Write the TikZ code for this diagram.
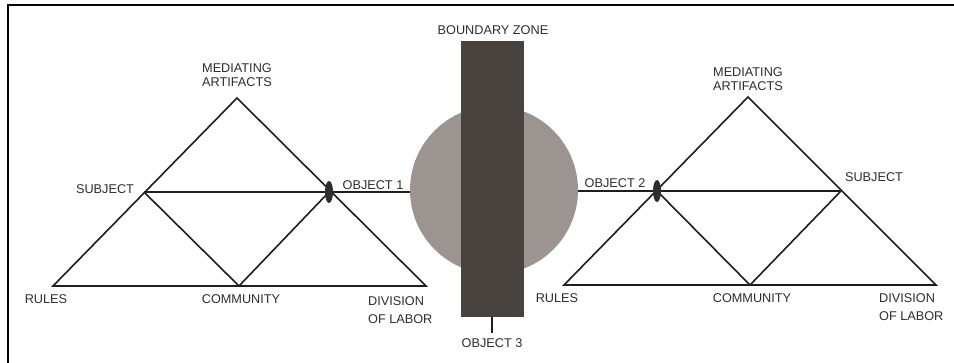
\documentclass[tikz,border=0pt]{standalone}
\usepackage{fontspec}
\setmainfont{Liberation Sans}
\usetikzlibrary{shapes.geometric}
\definecolor{txt}{HTML}{2E2E2E}
\definecolor{ln}{HTML}{1E1E1E}
\definecolor{zonegray}{HTML}{9B9491}
\definecolor{zonedark}{HTML}{48433F}
\tikzset{
  lbl/.style={text=txt, font=\fontsize{12.7}{14.5}\selectfont, inner sep=0pt, align=center},
  lblL/.style={text=txt, font=\fontsize{12.7}{18}\selectfont, inner sep=0pt, align=left},
  edge/.style={draw=ln, line width=1.6pt},
  objdot/.style={ellipse, fill=txt, minimum width=8pt, minimum height=22pt, inner sep=0pt},
  frameline/.style={draw=black, line width=2.5pt}
}
\begin{document}
\begin{tikzpicture}[x=1pt,y=-1pt]
\useasboundingbox (0,0) rectangle (954,363);
\fill[white] (0,0) rectangle (954,363);
\draw[frameline] (8,370) -- (8,5) -- (960,5);

% boundary zone
\node[circle, fill=zonegray, minimum size=168pt, inner sep=0pt] (circ) at (494,190) {};
\node[rectangle, fill=zonedark, minimum width=63pt, minimum height=276pt, inner sep=0pt] (zone) at (492.5,179) {};
\node[lbl] (bz) at (493,30) {BOUNDARY ZONE};
\coordinate (z3) at (492,333);
\draw[edge] (zone.south -| z3) -- (z3);
\node[lbl] (o3) at (492,343) {OBJECT 3};

% left triangle
\coordinate (La) at (237,98);
\coordinate (Lbl) at (53,286);
\coordinate (Lbr) at (426,286);
\coordinate (Ls) at (144,192);
\coordinate (Lc) at (239,286);
\coordinate (Lo) at (329,192);
\draw[edge, line join=miter] (La) -- (Lbr) -- (Lbl) -- cycle;
\draw[edge] (Ls) -- (Lo);
\draw[edge] (Ls) -- (Lc) -- (Lo);
\node[objdot] (obj1) at (Lo) {};
\draw[edge] (obj1.east) -- (circ.west |- obj1.east);
\node[lbl] (Lma) at (237,75) {MEDIATING\\ARTIFACTS};
\node[lbl] (Lsub) at (105,189) {SUBJECT};
\node[lbl] (Lob) at (373,185) {OBJECT 1};
\node[lbl] (Lru) at (46,299) {RULES};
\node[lbl] (Lco) at (241,299) {COMMUNITY};
\node[lblL, anchor=west] (Ldl) at (368,310) {DIVISION\\OF LABOR};

% right triangle
\coordinate (Ra) at (748,97);
\coordinate (Rbl) at (564,285);
\coordinate (Rbr) at (936,285);
\coordinate (Ro) at (657,191);
\coordinate (Rs) at (841,191);
\coordinate (Rc) at (750,285);
\draw[edge, line join=miter] (Ra) -- (Rbr) -- (Rbl) -- cycle;
\draw[edge] (Ro) -- (Rs);
\draw[edge] (Ro) -- (Rc) -- (Rs);
\node[objdot] (obj2) at (Ro) {};
\draw[edge] (obj2.west) -- (circ.east |- obj2.west);
\node[lbl] (Rma) at (748,79) {MEDIATING\\ARTIFACTS};
\node[lbl] (Rsub) at (874,177) {SUBJECT};
\node[lbl] (Rob) at (615,183) {OBJECT 2};
\node[lbl] (Rru) at (557,298) {RULES};
\node[lbl] (Rco) at (752,298) {COMMUNITY};
\node[lblL, anchor=west] (Rdl) at (879,307) {DIVISION\\OF LABOR};
\end{tikzpicture}
\end{document}
